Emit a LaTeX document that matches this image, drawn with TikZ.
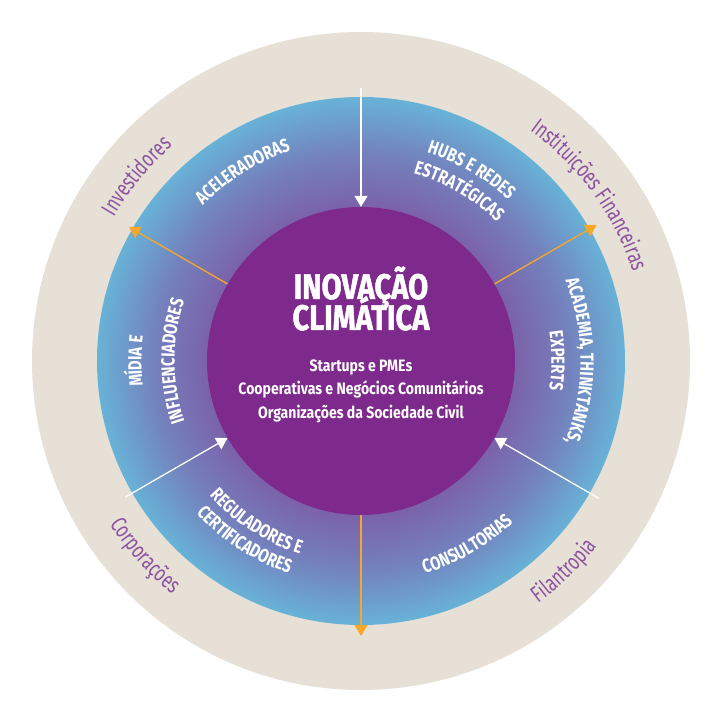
\documentclass[tikz,border=0pt]{standalone}
\usepackage{fontspec}
\usetikzlibrary{arrows.meta,decorations.text}

\setmainfont{Fira Sans}
\newfontfamily\heavyface{Fira Sans}[FakeStretch=0.82,FakeBold=1.4]
\newfontfamily\capface{Fira Sans}[FakeStretch=0.78]
\newfontfamily\memberface{Fira Sans}[FakeStretch=0.85]
\newfontfamily\thinface{Fira Sans}[FakeStretch=0.72]

\newcommand\titlefont{\heavyface\bfseries\fontsize{35.5}{35.5}\selectfont}
\newcommand\memberfont{\memberface\bfseries\fontsize{16.5}{16.5}\selectfont}
\newcommand\ringfont{\capface\bfseries\fontsize{19}{19}\selectfont}
\newcommand\outerfont{\thinface\fontsize{23}{23}\selectfont}

\definecolor{beige}{RGB}{230,224,214}
\definecolor{hubpurple}{RGB}{126,42,140}
\definecolor{ringin}{RGB}{123,98,170}
\definecolor{ringmid}{RGB}{116,128,188}
\definecolor{ringout}{RGB}{104,178,215}
\definecolor{orangeline}{RGB}{247,168,40}
\definecolor{outertext}{RGB}{140,82,160}

\pgfdeclareradialshading{ringshade}{\pgfpoint{0bp}{0bp}}{%
  color(0bp)=(ringin); color(14.6bp)=(ringin); color(19.5bp)=(ringmid);
  color(25bp)=(ringout); color(50bp)=(ringout)}

\tikzset{
  hubdisc/.style={circle,fill=hubpurple,minimum size=308pt,inner sep=0pt},
  titletext/.style={anchor=base,text=white,font=\titlefont,inner sep=0pt},
  membertext/.style={anchor=base,text=white,font=\memberfont,inner sep=0pt},
  inarrow/.style={draw=white,line width=1.3pt,-{Triangle[length=11pt,width=13pt]}},
  outarrow/.style={draw=orangeline,line width=1.3pt,-{Triangle[length=11pt,width=13pt]}},
  ringlabel/.style={decorate,decoration={text along path,text align=center,
      text color=white,text={|\ringfont|#1}}},
  outerlabel/.style={decorate,decoration={text along path,text align=center,
      text color=outertext,text={|\outerfont|#1}}}
}

\begin{document}
\begin{tikzpicture}[x=1pt,y=1pt]
  \useasboundingbox (-361,-359) rectangle (359,361);

  % rings
  \fill[beige] (0,0) circle[radius=329];
  \shade[shading=ringshade] (0,0) circle[radius=264];
  \node[hubdisc] (hub) at (0,0) {};

  % arrow ends
  \coordinate (pN) at (90:273);
  \coordinate (pNE) at (30:272);
  \coordinate (pSE) at (-30:275);
  \coordinate (pS) at (-90:275);
  \coordinate (pSW) at (210:272);
  \coordinate (pNW) at (150:268);

  \foreach \p in {pN,pSE,pSW}
    \draw[inarrow] (\p) -- (hub);
  \foreach \p in {pNE,pS,pNW}
    \draw[outarrow] (hub) -- (\p);

  % centre
  \node[titletext] (title1) at (0,62) {INOVAÇÃO};
  \node[titletext] (title2) at (0,31) {CLIMÁTICA};
  \node[membertext] (member1) at (0,-10.7) {Startups e PMEs};
  \node[membertext] (member2) at (0,-34) {Cooperativas e Negócios Comunitários};
  \node[membertext] (member3) at (0,-57.3) {Organizações da Sociedade Civil};

  % inner ring
  \path[ringlabel=ACELERADORAS] (152:221.5) arc[start angle=152,end angle=92,radius=221.5];
  \path[ringlabel=HUBS E REDES] (90:218.5) arc[start angle=90,end angle=30,radius=218.5];
  \path[ringlabel=ESTRATÉGICAS] (90:194.5) arc[start angle=90,end angle=30,radius=194.5];
  \path[ringlabel={ACADEMIA, THINKTANKS,}] (30:219.5) arc[start angle=30,end angle=-30,radius=219.5];
  \path[ringlabel=EXPERTS] (30:190.5) arc[start angle=30,end angle=-30,radius=190.5];
  \path[ringlabel=CONSULTORIAS] (-90:222) arc[start angle=-90,end angle=-30,radius=222];
  \path[ringlabel=REGULADORES E] (207:202.5) arc[start angle=207,end angle=267,radius=202.5];
  \path[ringlabel=CERTIFICADORES] (207:224.5) arc[start angle=207,end angle=267,radius=224.5];
  \path[ringlabel=MÍDIA E] (210:219.5) arc[start angle=210,end angle=150,radius=219.5];
  \path[ringlabel=INFLUENCIADORES] (210:186.5) arc[start angle=210,end angle=150,radius=186.5];

  % outer ring
  \path[outerlabel=Investidores] (170.5:286) arc[start angle=170.5,end angle=110.5,radius=286];
  \path[outerlabel=Instituições Financeiras] (76:286) arc[start angle=76,end angle=-4,radius=286];
  \path[outerlabel=Corporações] (192:300) arc[start angle=192,end angle=252,radius=300];
  \path[outerlabel=Filantropia] (-76:300) arc[start angle=-76,end angle=-16,radius=300];
\end{tikzpicture}
\end{document}
